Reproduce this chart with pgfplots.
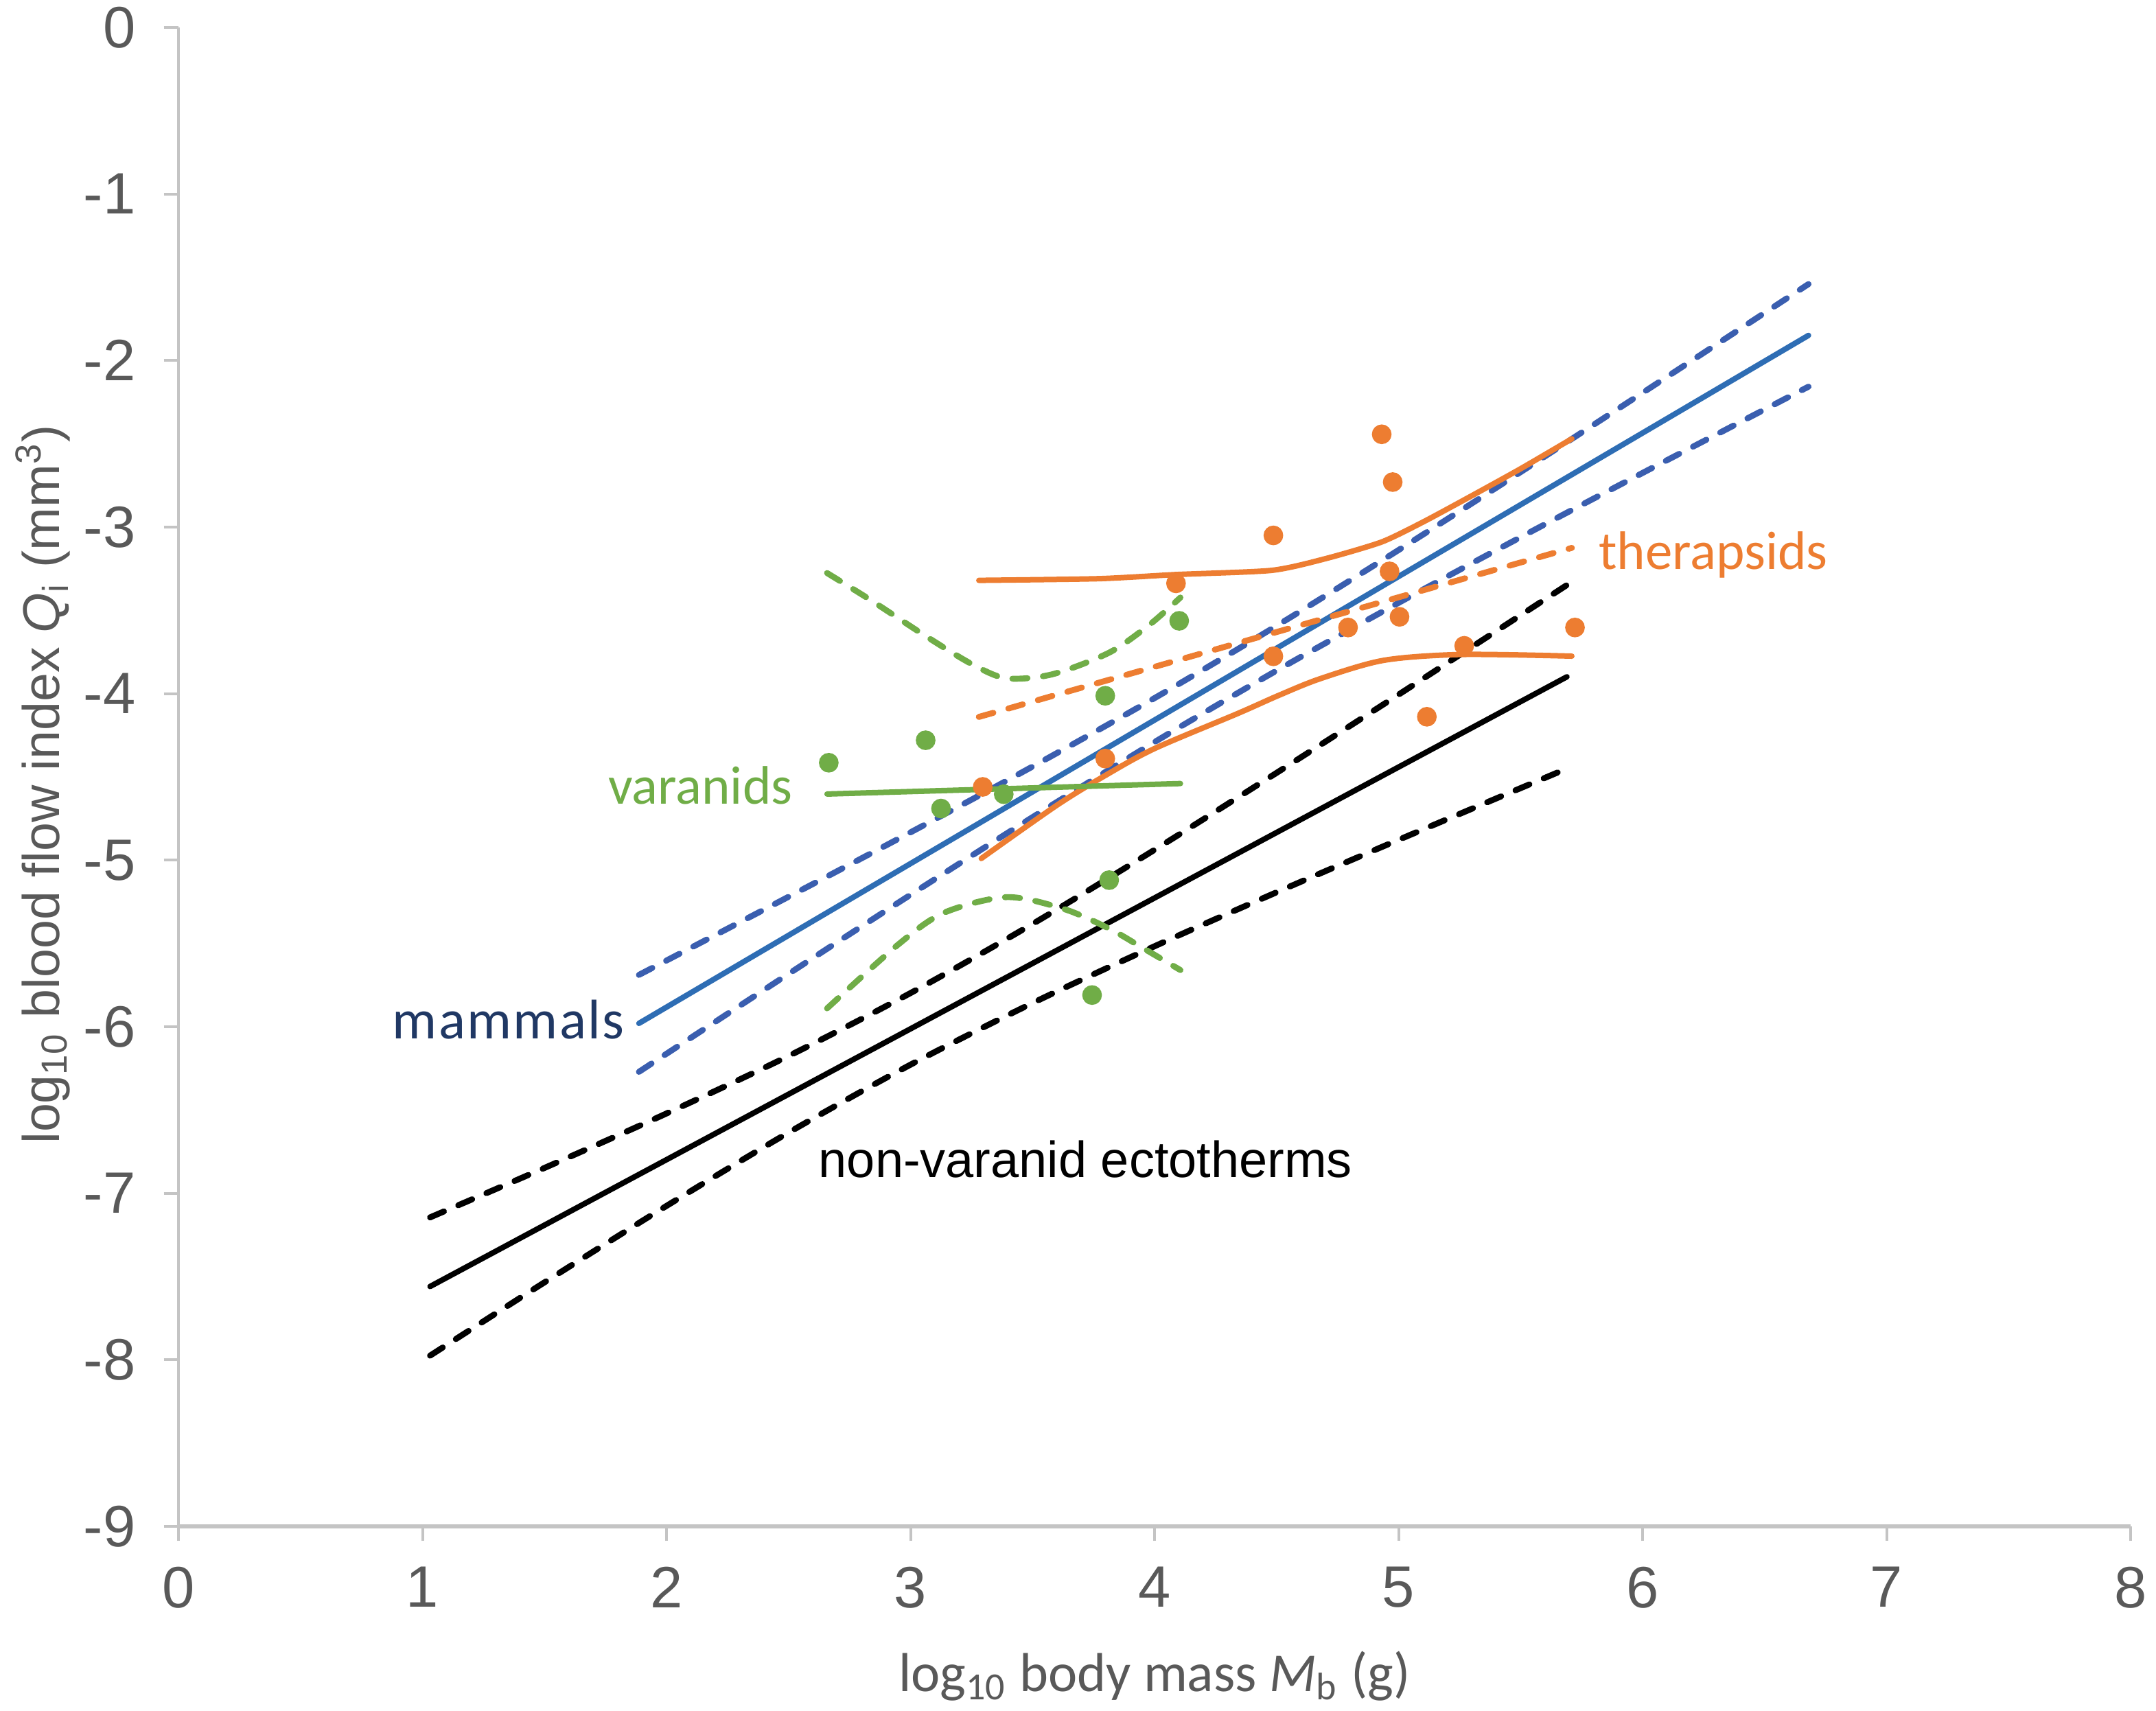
\documentclass[border=0pt]{standalone}
\usepackage{fontspec}
\setmainfont{Liberation Sans}
\newfontfamily\calfont{Carlito}
\newfontfamily\calspaced[LetterSpace=3]{Carlito}
\usepackage{pgfplots}
\pgfplotsset{compat=1.18}
\definecolor{torange}{HTML}{ED7D31}
\definecolor{vgreen}{HTML}{70AD47}
\definecolor{mblue}{HTML}{2E6DB4}
\definecolor{mbluedash}{HTML}{3A5EAF}
\definecolor{mnavy}{HTML}{203864}
\definecolor{txtgray}{HTML}{595959}
\definecolor{axgray}{HTML}{C4C4C4}
\begin{document}
\begin{tikzpicture}
\begin{axis}[
  scale only axis, width=426.6bp, height=327.6bp,
  xmin=0, xmax=8, ymin=-9, ymax=0,
  axis lines*=left,
  x axis line style={draw=axgray, line width=0.9bp},
  y axis line style={draw=axgray, line width=0.6bp},
  xtick={0,1,2,3,4,5,6,7,8}, ytick={-9,-8,-7,-6,-5,-4,-3,-2,-1,0},
  xticklabels={0,1,2,3,4,5,6,7,8},
  yticklabels={-9,-8,-7,-6,-5,-4,-3,-2,-1,0},
  tick align=outside, major tick length=3.2bp,
  tick style={draw=axgray, line width=0.6bp},
  tick label style={font=\fontsize{12.75bp}{15bp}\selectfont, text=txtgray, inner sep=0pt},
  xticklabel style={anchor=north, yshift=-5.5bp},
  yticklabel style={anchor=east, xshift=-6bp},
  xlabel={log\textsubscript{10} body mass \textit{M}\textsubscript{b} (g)},
  xlabel style={at={([yshift=-36.15bp]axis description cs:0.5,0)}, anchor=base, font=\calfont\fontsize{12bp}{14bp}\selectfont, text=txtgray, inner sep=0pt},
  ylabel={log\textsubscript{10} blood flow index \textit{Q}\textsubscript{i} (mm\textsuperscript{3})},
  ylabel style={at={([xshift=-26.1bp]axis description cs:0,0.495)}, anchor=base, font=\fontsize{11.3bp}{13bp}\selectfont, text=txtgray, inner sep=0pt},
  clip=false,
  solidl/.style={line width=1.2bp, line cap=round, line join=round},
  dashl/.style={line width=1.3bp, line cap=round, line join=round, dash pattern=on 3.3bp off 3.4bp},
]
% non-varanid ectotherms
\addplot[black, solidl] coordinates {(1.031,-7.560) (5.690,-3.899)};
\addplot[black, dashl, smooth] coordinates {
(1.031,-7.145) (1.5,-6.848) (2.0,-6.521) (2.5,-6.176) (3.0,-5.798) (3.5,-5.383) (4.0,-4.938) (4.5,-4.476) (5.0,-4.006) (5.69,-3.348)};
\addplot[black, dashl, smooth] coordinates {
(1.031,-7.975) (1.5,-7.535) (2.0,-7.076) (2.5,-6.636) (3.0,-6.228) (3.5,-5.858) (4.0,-5.517) (4.5,-5.193) (5.0,-4.878) (5.69,-4.450)};
% therapsid points drawn under lines
\addplot[only marks, mark=*, mark size=1.95bp, color=torange] coordinates {
(4.931,-2.443) (4.976,-2.730) (4.487,-3.050) (4.088,-3.338) (4.963,-3.266) (4.793,-3.603) (5.004,-3.539) (5.723,-3.603) (4.487,-3.776) (5.269,-3.713) (5.116,-4.139) (3.798,-4.390) (3.296,-4.560)};
% mammals
\addplot[mblue, solidl] coordinates {(1.887,-5.980) (6.680,-1.849)};
\addplot[mbluedash, dashl, smooth] coordinates {
(1.887,-5.689) (2.5,-5.220) (3.0,-4.833) (3.5,-4.438) (4.0,-4.027) (4.5,-3.593) (5.0,-3.138) (5.5,-2.670) (6.0,-2.194) (6.68,-1.541)};
\addplot[mbluedash, dashl, smooth] coordinates {
(1.887,-6.271) (2.5,-5.683) (3.0,-5.208) (3.5,-4.742) (4.0,-4.291) (4.5,-3.862) (5.0,-3.455) (5.5,-3.061) (6.0,-2.675) (6.68,-2.157)};
% therapsids
\addplot[torange, dashl] coordinates {(3.28,-4.140) (5.71,-3.125)};
\addplot[torange, solidl, smooth, tension=0.4] coordinates {
(3.28,-3.32) (3.77,-3.31) (4.09,-3.285) (4.48,-3.26) (4.70,-3.19) (4.93,-3.09) (5.10,-2.97) (5.29,-2.82) (5.50,-2.65) (5.71,-2.47)};
\addplot[torange, solidl, smooth, tension=0.5] coordinates {
(3.29,-4.99) (3.60,-4.67) (3.80,-4.49) (4.00,-4.33) (4.34,-4.12) (4.51,-4.01) (4.68,-3.91) (4.94,-3.80) (5.26,-3.765) (5.71,-3.775)};
% varanids
\addplot[vgreen, solidl] coordinates {(2.658,-4.603) (4.106,-4.540)};
\addplot[vgreen, dashl, smooth, tension=0.5] coordinates {
(2.658,-3.276) (2.833,-3.435) (3.067,-3.659) (3.254,-3.825) (3.394,-3.908) (3.581,-3.884) (3.814,-3.754) (3.978,-3.588) (4.106,-3.423)};
\addplot[vgreen, dashl, smooth, tension=0.5] coordinates {
(2.658,-5.890) (2.950,-5.506) (3.137,-5.316) (3.394,-5.222) (3.628,-5.293) (3.814,-5.411) (3.954,-5.529) (4.106,-5.660)};
\addplot[only marks, mark=*, mark size=1.95bp, color=vgreen] coordinates {
(2.665,-4.415) (3.062,-4.280) (3.125,-4.690) (3.382,-4.604) (3.798,-4.013) (4.101,-3.563) (3.814,-5.120) (3.744,-5.810)};
% labels
\node[anchor=base west, inner sep=0pt, text=vgreen, font=\calfont\fontsize{11.85bp}{14bp}\selectfont] at (axis cs:1.758,-4.664) {varanids};
\node[anchor=base west, inner sep=0pt, text=torange, font=\calfont\fontsize{11.85bp}{14bp}\selectfont] at (axis cs:5.817,-3.254) {therapsids};
\node[anchor=base west, inner sep=0pt, text=mnavy, font=\calspaced\fontsize{12.2bp}{14bp}\selectfont] at (axis cs:0.873,-6.074) {mammals};
\node[anchor=base west, inner sep=0pt, text=black, font=\fontsize{11.1bp}{13bp}\selectfont] at (axis cs:2.62,-6.905) {non-varanid ectotherms};
\end{axis}
\pgfresetboundingbox
\path[use as bounding box] ([shift={(-39bp,-40.35bp)}]current axis.south west) rectangle ([shift={(5.55bp,6bp)}]current axis.north east);
\end{tikzpicture}
\end{document}
